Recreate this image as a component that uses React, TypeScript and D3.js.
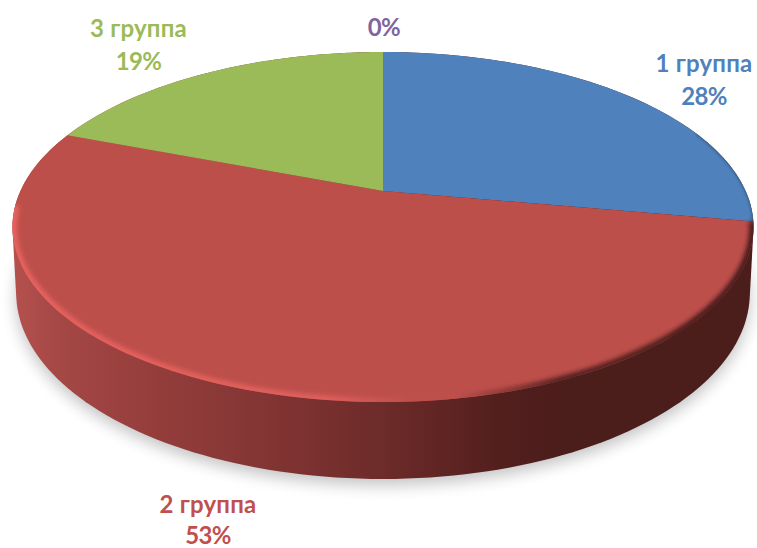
import React from "react";
import * as d3 from "d3";

const categories = ["1 группа", "2 группа", "3 группа", ""];
const values = [27.8, 53.0, 19.2, 0];
const percentLabels = ["28%", "53%", "19%", "0%"];
const colors = ["#4f81bd", "#bd4f4b", "#9bbb59", "#8064a2"];

const W = 757, H = 548;
const apexX = 383, apexY = 191;
const pers = 0.2057, yScale = 128.3, xScale = 362.6;

type P = [number, number];
const project = (t: number): P => {
  const u = Math.sin(t), v = Math.cos(t), w = 1 + pers * v;
  return [apexX + (xScale * u) / w, (apexY - yScale * v) / w];
};
const toBase = ([x, y]: P): P => [apexX + (x - apexX) * 0.99, (y - 227) * (186 / 175) + 293];

const samples = (a: number, b: number, n = 120) => d3.range(n + 1).map((i) => a + ((b - a) * i) / n);
const line = d3.line<P>().x((d) => d[0]).y((d) => d[1]);

const slices = d3.pie<number>().sort(null)(values);
const wedge = (a: number, b: number) => line([[apexX, apexY], ...samples(a, b).map(project)])! + "Z";
const rim = (a: number, b: number) => line(samples(a, b).map(project))!;

const ring = samples(0, Math.PI * 2, 240).map(project);
const basePts = ring.map(toBase);
const topPath = line(ring)! + "Z";
const basePath = line(basePts)! + "Z";
const hullPath = line(d3.polygonHull([...ring, ...basePts]) as P[])! + "Z";

const labelPos = [
  { x: 704, y1: 72, y2: 105 },
  { x: 208, y1: 513, y2: 544 },
  { x: 138.5, y1: 37, y2: 70 },
  { x: 384, y1: 36, y2: 36 },
];

export default function App() {
  const red = slices[1];
  return (
    <svg width={W} height={H} style={{ position: "absolute", left: 0, top: 0, background: "#fff" }}>
      <defs>
        <linearGradient id="wall" gradientUnits="userSpaceOnUse" x1={12} x2={753} y1={0} y2={0}>
          <stop offset="0" stopColor="#b5514e" />
          <stop offset="0.06" stopColor="#a54846" />
          <stop offset="0.2" stopColor="#933d3b" />
          <stop offset="0.33" stopColor="#843634" />
          <stop offset="0.5" stopColor="#6d2b29" />
          <stop offset="0.66" stopColor="#521f1d" />
          <stop offset="0.75" stopColor="#4b1d1b" />
          <stop offset="1" stopColor="#4b1d1b" />
        </linearGradient>
        <linearGradient id="bevel" gradientUnits="userSpaceOnUse" x1={12} x2={753} y1={0} y2={0}>
          <stop offset="0" stopColor="#e8625e" />
          <stop offset="0.42" stopColor="#df5f5b" />
          <stop offset="0.54" stopColor="#bd4f4b" />
          <stop offset="0.6" stopColor="#bd4f4b" />
          <stop offset="0.74" stopColor="#5a2321" />
          <stop offset="1" stopColor="#4b1d1b" />
        </linearGradient>
        <filter id="blurS" x="-10%" y="-10%" width="120%" height="130%">
          <feGaussianBlur stdDeviation="8" />
        </filter>
        <filter id="blurB" x="-5%" y="-5%" width="110%" height="110%">
          <feGaussianBlur stdDeviation="2.2" />
        </filter>
        <filter id="blurE" x="-5%" y="-5%" width="110%" height="110%">
          <feGaussianBlur stdDeviation="1.2" />
        </filter>
        <clipPath id="topClip"><path d={topPath} /></clipPath>
      </defs>

      <path d={basePath} fill="#000" opacity={0.24} filter="url(#blurS)" transform="translate(0,6)" />
      <path d={hullPath} fill="url(#wall)" />

      {slices.map((s, i) => (
        <path key={i} d={wedge(s.startAngle, s.endAngle)} fill={colors[i]} />
      ))}

      <g clipPath="url(#topClip)">
        <path d={rim(red.startAngle, red.endAngle - 0.45)} fill="none" stroke="url(#bevel)" strokeWidth={9} filter="url(#blurB)" />
        <path d={rim(Math.PI * 0.38, slices[0].endAngle)} fill="none" stroke="#24405f" strokeWidth={2.5} strokeOpacity={0.5} filter="url(#blurE)" />
      </g>

      {labelPos.map((p, i) => (
        <g key={i} fontFamily="Lato, sans-serif" fontWeight={700} fontSize={24} fill={colors[i] === "#bd4f4b" ? "#c0504d" : colors[i]} textAnchor="middle">
          {categories[i] && <text x={p.x} y={p.y1} letterSpacing={0.2}>{categories[i]}</text>}
          <text x={p.x} y={p.y2} letterSpacing={-0.6}>{percentLabels[i]}</text>
        </g>
      ))}
    </svg>
  );
}
